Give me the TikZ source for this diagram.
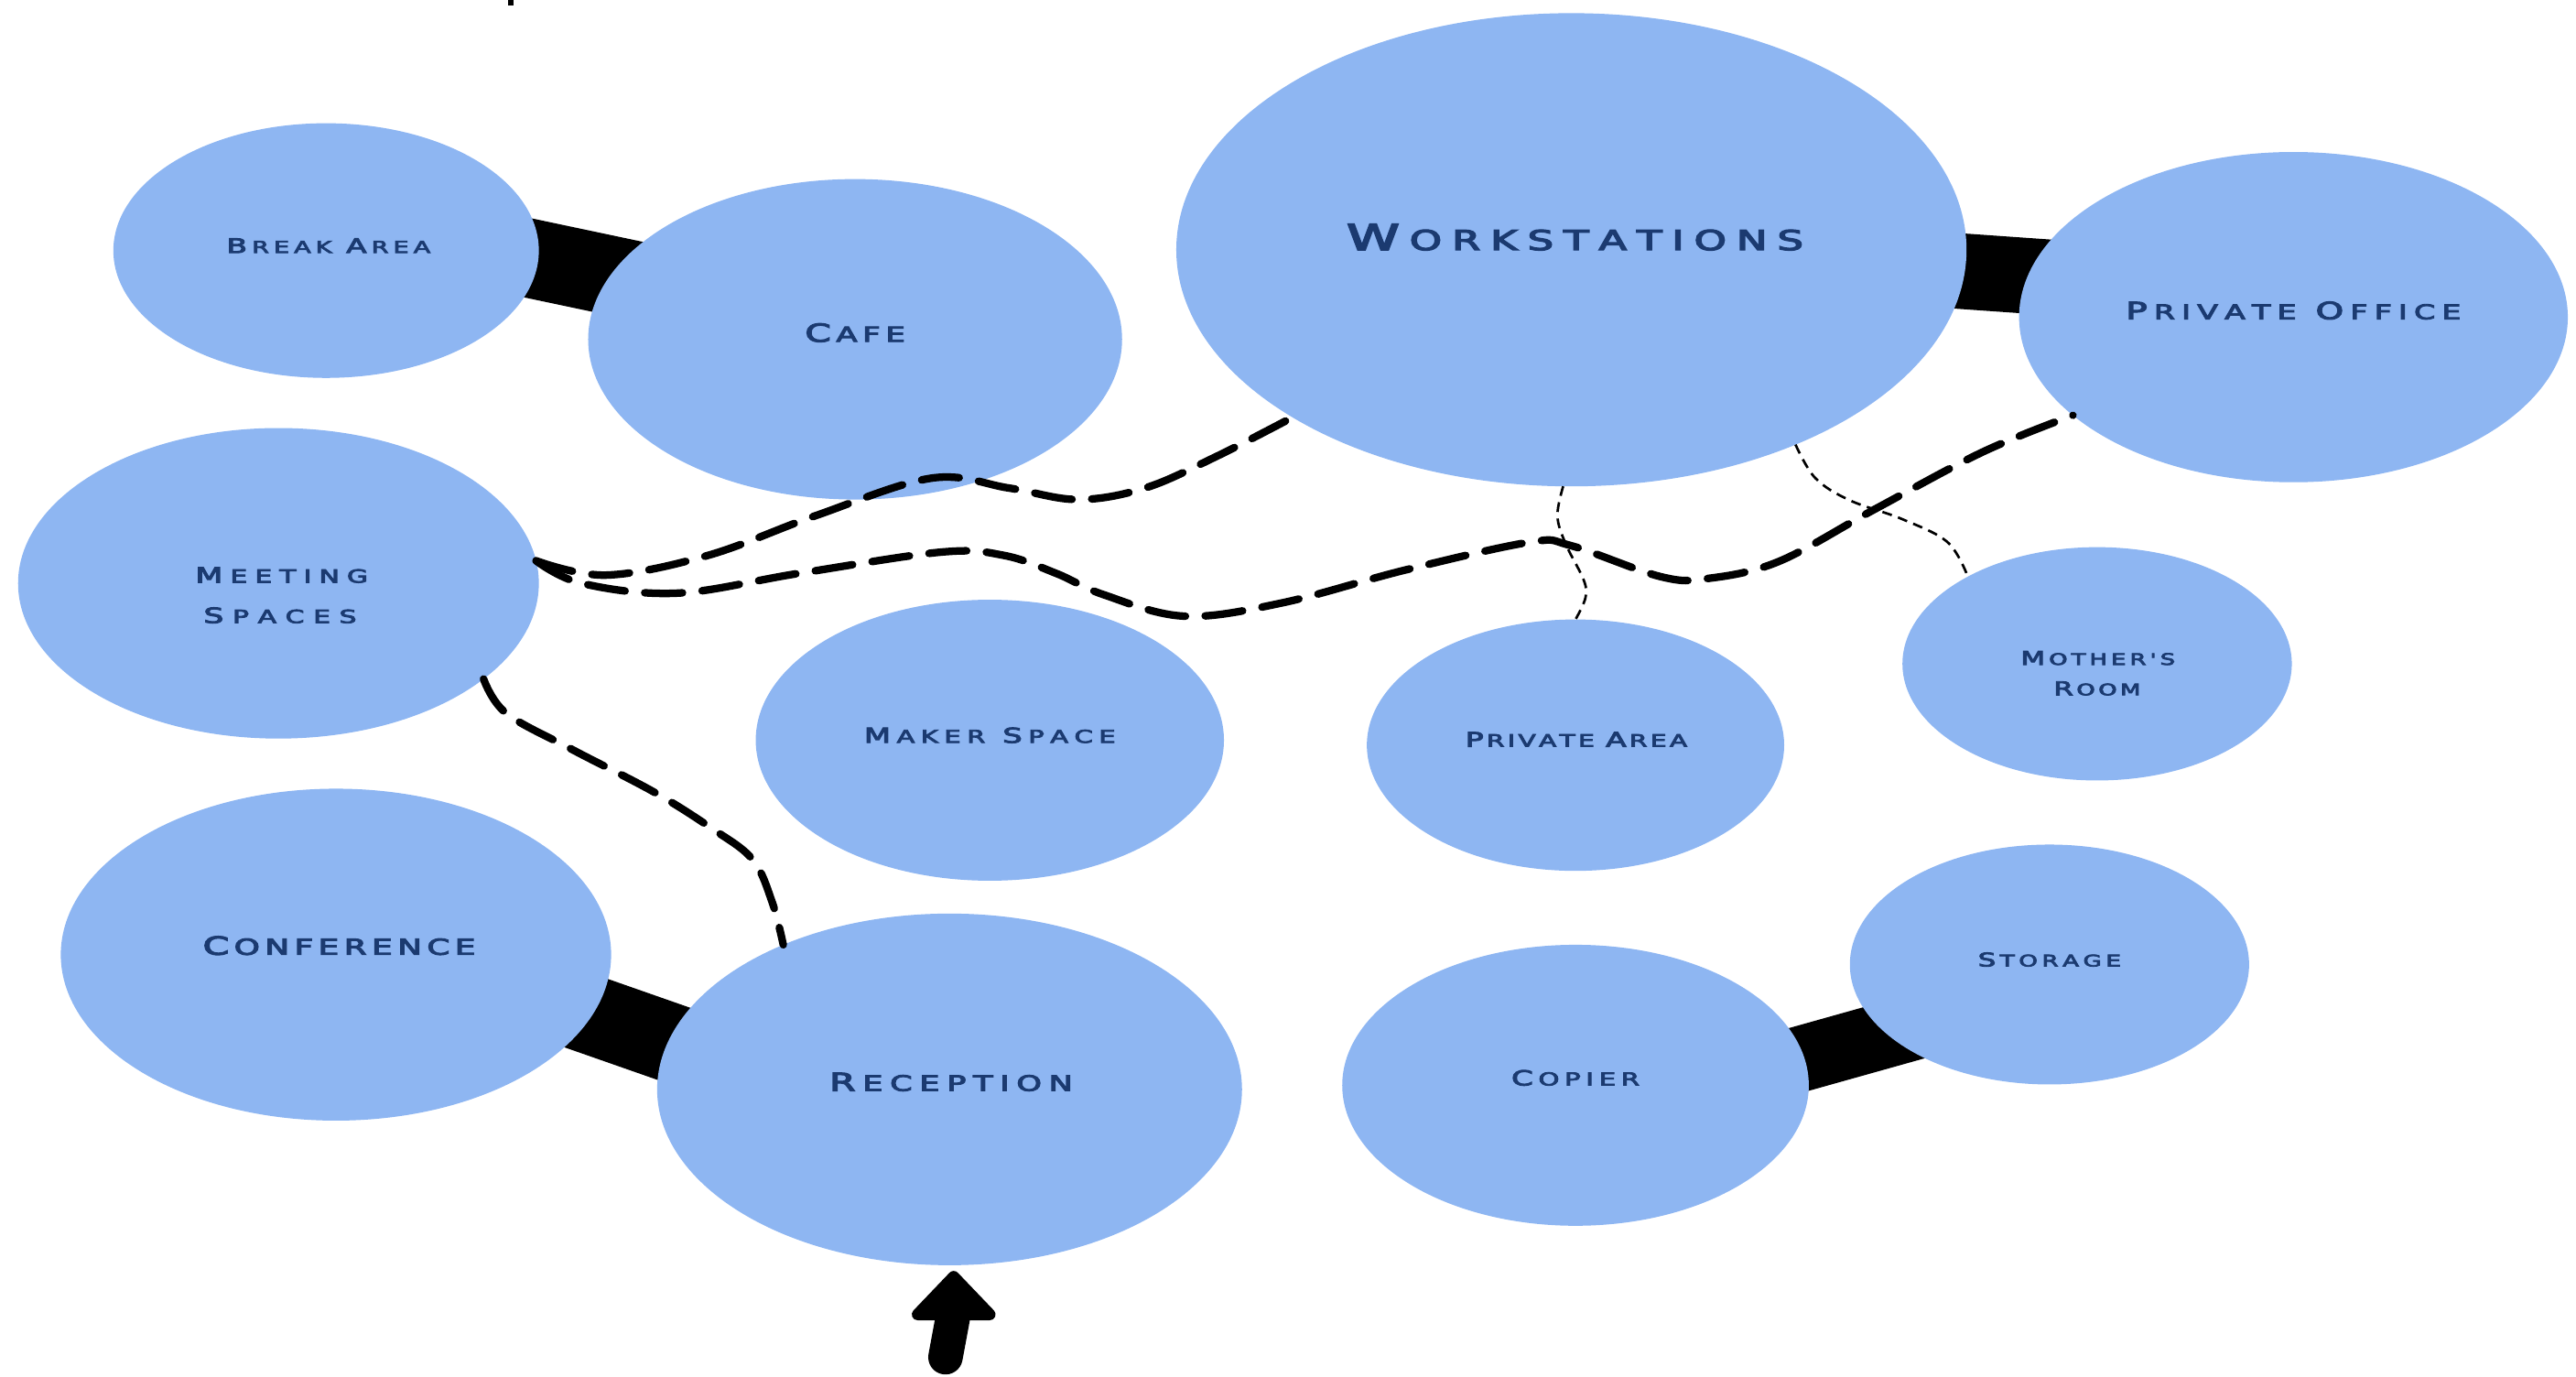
\documentclass[tikz,border=0pt]{standalone}
\usepackage{fontspec}
\usepackage{graphicx}
\newfontfamily\lblfont[FakeBold=4]{DejaVu Sans}
\usetikzlibrary{shapes.geometric,backgrounds,calc}
\definecolor{roomfill}{RGB}{142,182,242}
\definecolor{labelnavy}{RGB}{27,58,112}

\ExplSyntaxOn
\box_new:N \l__rs_box
\dim_new:N \l__rs_track_dim
\int_new:N \l__rs_gap_int
\cs_new_protected:Npn \__rs_bigfont: {}
\cs_new_protected:Npn \__rs_wide:n #1 { \scalebox{1.5}[1]{#1} }
\cs_new_protected:Npn \__rs_char:n #1
  {
    \str_if_eq:nnTF {#1} {_}
      { \skip_horizontal:n {0.3em} }
      {
        \int_compare:nNnTF {`#1} < {91}
          {
            \int_compare:nNnTF {`#1} > {64}
              { \__rs_wide:n { \__rs_bigfont: #1 } }
              { \__rs_wide:n {#1} }
          }
          {
            \int_compare:nNnTF {`#1} > {96}
              { \__rs_wide:n { \char \int_eval:n {`#1 - 32} \scan_stop: } }
              { \__rs_wide:n {#1} }
          }
      }
    \kern \l__rs_track_dim
  }
\NewDocumentCommand \sclabel { m m m m }
  {
    \cs_set_protected:Npn \__rs_bigfont: { \fontsize{#1}{#1}\selectfont }
    \lblfont \fontsize{#2}{#2}\selectfont
    \dim_zero:N \l__rs_track_dim
    \hbox_set:Nn \l__rs_box { \str_map_inline:nn {#4} { \__rs_char:n {##1} } }
    \int_set:Nn \l__rs_gap_int { \str_count:n {#4} - 1 }
    \dim_set:Nn \l__rs_track_dim { ( #3 - \box_wd:N \l__rs_box ) / \l__rs_gap_int }
    \hbox:n { \str_map_inline:nn {#4} { \__rs_char:n {##1} } \unkern }
  }
\ExplSyntaxOff

\begin{document}
\begin{tikzpicture}[x=1pt,y=-1pt,
  room/.style={ellipse, fill=roomfill, draw=none, inner sep=0pt, outer sep=0pt},
  lbl/.style={inner sep=0pt, outer sep=0pt, text=labelnavy, anchor=center},
  band/.style={line width=#1, draw=black},
  thickdash/.style={line width=4.6pt, line cap=round, dash pattern=on 23pt off 12pt},
  thindash/.style={line width=1.5pt, dash pattern=on 6pt off 4pt}]
\useasboundingbox (0,0) rectangle (1568,838);

% rooms
\node[room, minimum width=259pt, minimum height=155pt] (brk) at (198.5,152.5) {};
\node[room, minimum width=325pt, minimum height=195pt] (cafe) at (520.5,206.5) {};
\node[room, minimum width=481pt, minimum height=288pt] (ws) at (956.5,152) {};
\node[room, minimum width=334pt, minimum height=201pt] (po) at (1396,193) {};
\node[room, minimum width=317pt, minimum height=189pt] (ms) at (169.5,355) {};
\node[room, minimum width=285pt, minimum height=171pt] (mk) at (602.5,450.5) {};
\node[room, minimum width=254pt, minimum height=153pt] (pa) at (959,453.5) {};
\node[room, minimum width=237pt, minimum height=142pt] (mr) at (1276.5,404) {};
\node[room, minimum width=335pt, minimum height=202pt] (cf) at (204.5,581) {};
\node[room, minimum width=356pt, minimum height=214pt] (rec) at (578,663) {};
\node[room, minimum width=243pt, minimum height=146pt] (st) at (1247.5,587) {};
\node[room, minimum width=284pt, minimum height=171pt] (cp) at (959,660.5) {};

% labels
\node[lbl] (ws-t) at (958.7,144.4) {\sclabel{21.7}{16.7}{278pt}{Workstations}};
\node[lbl] (po-t) at (1396,189) {\sclabel{14.4}{12.3}{204pt}{Private_Office}};
\node[lbl] (brk-t) at (200,149.5) {\sclabel{12.1}{10}{124pt}{Break_Area}};
\node[lbl] (cafe-t) at (520.5,202.5) {\sclabel{15.1}{12.6}{61pt}{Cafe}};
\node[lbl] (ms-t1) at (171.5,350) {\sclabel{12.8}{11}{105pt}{Meeting}};
\node[lbl] (ms-t2) at (170.5,374.5) {\sclabel{12.8}{11}{93pt}{Spaces}};
\node[lbl] (mk-t) at (602.5,447.5) {\sclabel{12.5}{10.7}{153pt}{Maker_Space}};
\node[lbl] (cf-t) at (206.5,575.5) {\sclabel{15.2}{13.3}{166pt}{Conference}};
\node[lbl] (rec-t) at (579,658.5) {\sclabel{15.1}{13}{148pt}{Reception}};
\node[lbl] (pa-t) at (959.5,450) {\sclabel{12.2}{10.4}{135pt}{Private_Area}};
\node[lbl] (mr-t1) at (1277,400.5) {\sclabel{11.5}{9.6}{94pt}{Mother's}};
\node[lbl] (mr-t2) at (1276.5,419) {\sclabel{11.5}{9.6}{53pt}{Room}};
\node[lbl] (st-t) at (1247.5,584) {\sclabel{11.4}{9.7}{87pt}{Storage}};
\node[lbl] (cp-t) at (959,656) {\sclabel{12.6}{10.8}{78pt}{Copier}};

\begin{scope}[on background layer]
  % solid adjacency bands
  \draw[band=48pt] ($(brk.center)+(0,-21.5)$) -- ($(cafe.center)+(0,-7.5)$);
  \draw[band=46pt] ($(ws.center)+(0,-3.6)$) -- ($(po.center)+(0,-13.8)$);
  \draw[band=48pt] ($(cf.center)+(0,-17.7)$) -- ($(rec.center)+(0,31)$);
  \draw[band=40pt] ($(cp.center)+(0,22.4)$) -- ($(st.center)+(0,15)$);

  % entrance arrow
  \coordinate (entry) at (575.5,826);
  \coordinate (tip) at ($(rec.south)+(2.5,7)$);
  \draw[line width=21pt, line cap=round] (entry) -- ($(tip)+(0,22)$);
  \filldraw[line width=7pt, line join=round] (tip) -- ++(-22,23) -- ++(44,0) -- cycle;
\end{scope}

% thick dashed paths
\draw[thickdash] plot[smooth, tension=0.6] coordinates {(ms.5) (369,350) (431,338) (496,314) (567,291) (614,297) (656,304) (697,297) (740,278) (ws.211)};
\draw[thickdash] plot[smooth, tension=0.6] coordinates {(ms.5) (354,355) (412,361) (486,349) (573,336) (611,338) (643,349) (672,362) (721,375) (780,367) (855,347) (931,330) (956,332) (1011,351) (1040,352) (1083,341.6) (1141,310) (1207,275) (po.204)};
\draw[thickdash] plot[smooth, tension=0.6] coordinates {(ms.335) (308,434) (348,456) (398,482) (433,504) (458,523) (470,549) (rec.139)};

% thin dashed paths
\draw[thindash] plot[smooth, tension=0.6] coordinates {(ws.268) (948,314) (953,331) (964,353) (965,364) (pa.north)};
\draw[thindash] plot[smooth, tension=0.6] coordinates {(ws.319) (1105,291) (1126,304.5) (1158,316) (1185.5,330) (mr.146)};

% small stray mark at the top edge
\fill (309.2,0) rectangle (312.5,3.2);
\end{tikzpicture}
\end{document}
